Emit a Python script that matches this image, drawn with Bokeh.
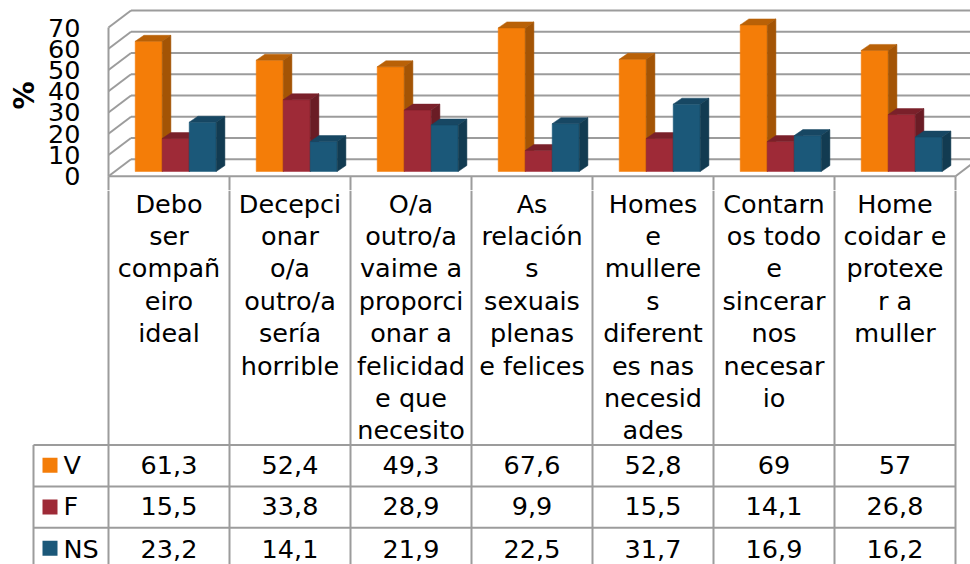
from bokeh.embed import file_html
from bokeh.resources import INLINE
from bokeh.plotting import figure
from bokeh.models import Range1d, FixedTicker
from bokeh.core.properties import value

categories = [
    ["Debo", "ser", "compañ", "eiro", "ideal"],
    ["Decepci", "onar", "o/a", "outro/a", "sería", "horrible"],
    ["O/a", "outro/a", "vaime a", "proporci", "onar a", "felicidad", "e que", "necesito"],
    ["As", "relación", "s", "sexuais", "plenas", "e felices"],
    ["Homes", "e", "mullere", "s", "diferent", "es nas", "necesid", "ades"],
    ["Contarn", "os todo", "e", "sincerar", "nos", "necesar", "io"],
    ["Home", "coidar e", "protexe", "r a", "muller"],
]
series_names = ["V", "F", "NS"]
v_values = [61.3, 52.4, 49.3, 67.6, 52.8, 69, 57]
f_values = [15.5, 33.8, 28.9, 9.9, 15.5, 14.1, 26.8]
ns_values = [23.2, 14.1, 21.9, 22.5, 31.7, 16.9, 16.2]
y_ticks = [0, 10, 20, 30, 40, 50, 60, 70]

front_colors = ["#F47D08", "#9E2A37", "#1B5879"]
side_colors = ["#A35405", "#6A1C25", "#123B51"]
top_colors = ["#B96107", "#7A202A", "#174763"]
GRID = "#9C9C9C"
FONT = "DejaVu Sans"
FS = "25.5px"

# page-pixel layout
W, H_TOP, H_TAB = 970, 190, 374
PAGE_L, PAGE_T = 0, 0
AX_X, FLOOR_Y = 108, 175.7
COL_W, PX_PER_UNIT = 121.0, 2.124
FRAME_L = 104
TOP_B = PAGE_T + H_TOP

WALL_DX, WALL_DY = 22.5 / COL_W, 17 / PX_PER_UNIT
BAR_DX, BAR_DY = 8.7 / COL_W, 6 / PX_PER_UNIT
BASE = 4.7 / PX_PER_UNIT
BAR_START, BAR_W = 26.7 / COL_W, 27 / COL_W
N = len(categories)

top = figure(width=W, height=H_TOP, output_backend="svg", toolbar_location=None,
             x_range=Range1d((FRAME_L - AX_X) / COL_W, (PAGE_L + W - AX_X) / COL_W),
             y_range=Range1d((FLOOR_Y - TOP_B) / PX_PER_UNIT, (FLOOR_Y - PAGE_T) / PX_PER_UNIT),
             min_border_left=FRAME_L - PAGE_L, min_border_right=0,
             min_border_top=0, min_border_bottom=0,
             outline_line_color=None, background_fill_color=None)
top.xaxis.visible = False
top.grid.visible = False
ax = top.yaxis[0]
ax.ticker = FixedTicker(ticks=y_ticks)
ax.bounds = (0, 70)
ax.axis_line_color = None
ax.major_tick_line_color = None
ax.minor_tick_line_color = None
ax.major_label_text_font = FONT
ax.major_label_text_font_size = FS
ax.major_label_text_color = "#000000"
ax.major_label_standoff = 18
ax.axis_label = "%"
ax.axis_label_text_font = FONT
ax.axis_label_text_font_style = "bold"
ax.axis_label_text_font_size = "28px"
ax.axis_label_text_color = "#000000"
ax.axis_label_standoff = 4

x_end = (PAGE_L + W - AX_X) / COL_W
top.segment(x0=[WALL_DX] * 8, x1=[x_end] * 8,
            y0=[t + WALL_DY for t in y_ticks], y1=[t + WALL_DY for t in y_ticks],
            line_color=GRID, line_width=2)
top.segment(x0=[0] * 8, x1=[WALL_DX] * 8, y0=y_ticks, y1=[t + WALL_DY for t in y_ticks],
            line_color=GRID, line_width=2)
top.segment(x0=[0], x1=[0], y0=[0], y1=[70], line_color=GRID, line_width=2)
top.segment(x0=[0, N], x1=[N, N + WALL_DX], y0=[0, 0], y1=[0, WALL_DY],
            line_color=GRID, line_width=2)

all_series = [v_values, f_values, ns_values]
for c in range(N):
    for s, vals in enumerate(all_series):
        l = c + BAR_START + s * BAR_W
        r = l + BAR_W
        b = BASE
        t = BASE + vals[c]
        top.quad(left=[l], right=[r], bottom=[b], top=[t],
                 fill_color=front_colors[s], line_color=front_colors[s], line_width=0.5)
        top.patch([l, r, r + BAR_DX, l + BAR_DX], [t, t, t + BAR_DY, t + BAR_DY],
                  fill_color=top_colors[s], line_color=top_colors[s], line_width=0.5)
        top.patch([r, r + BAR_DX, r + BAR_DX, r], [b, b + BAR_DY, t + BAR_DY, t],
                  fill_color=side_colors[s], line_color=side_colors[s], line_width=0.5)

col_edges = [i for i in range(N + 1)]
top.segment(x0=col_edges, x1=col_edges, y0=[0] * (N + 1), y1=[-10] * (N + 1),
            line_color=GRID, line_width=2)

tab = figure(width=W, height=H_TAB, output_backend="svg", toolbar_location=None,
             x_range=Range1d(PAGE_L, PAGE_L + W), y_range=Range1d(TOP_B + H_TAB, TOP_B),
             min_border_left=0, min_border_right=0, min_border_top=0, min_border_bottom=0,
             outline_line_color=None)
tab.axis.visible = False
tab.grid.visible = False

ROW_LINES = [444.5, 486, 527.3, 569]
LEG_X = 33
xs_edges = [AX_X + i * COL_W for i in range(N + 1)]
tab.segment(x0=xs_edges, x1=xs_edges, y0=[TOP_B] * (N + 1), y1=[570] * (N + 1),
            line_color=GRID, line_width=2)
tab.segment(x0=[LEG_X] * 4, x1=[xs_edges[-1]] * 4, y0=ROW_LINES, y1=ROW_LINES,
            line_color=GRID, line_width=2)
tab.segment(x0=[LEG_X], x1=[LEG_X], y0=[ROW_LINES[0]], y1=[570], line_color=GRID, line_width=2)

LINE_H, FIRST_Y = 32.4, 203.0
cx, cy, ct = [], [], []
for i, lines in enumerate(categories):
    for j, t in enumerate(lines):
        cx.append(AX_X + (i + 0.5) * COL_W)
        cy.append(FIRST_Y + j * LINE_H)
        ct.append(t)
tab.text(x=cx, y=cy, text=ct, text_align="center", text_baseline="middle",
         text_font=value(FONT), text_font_size=value(FS), text_color="#000000")

def fmt(v):
    return str(v).replace(".", ",")

row_centers = [464.3, 505.8, 548.3]
swatch_tops = [457.3, 499, 540.3]
for r, vals in enumerate(all_series):
    tab.text(x=[AX_X + (i + 0.5) * COL_W for i in range(N)], y=[row_centers[r]] * N,
             text=[fmt(v) for v in vals], text_align="center", text_baseline="middle",
             text_font=value(FONT), text_font_size=value(FS), text_color="#000000")
    tab.text(x=[63], y=[row_centers[r]], text=[series_names[r]], text_align="left",
             text_baseline="middle", text_font=value(FONT), text_font_size=value(FS),
             text_color="#000000")
    tab.quad(left=[42], right=[57], top=[swatch_tops[r]], bottom=[swatch_tops[r] + 15],
             fill_color=front_colors[r], line_color=None)

open("out.html", "w").write(file_html([top, tab], INLINE))
